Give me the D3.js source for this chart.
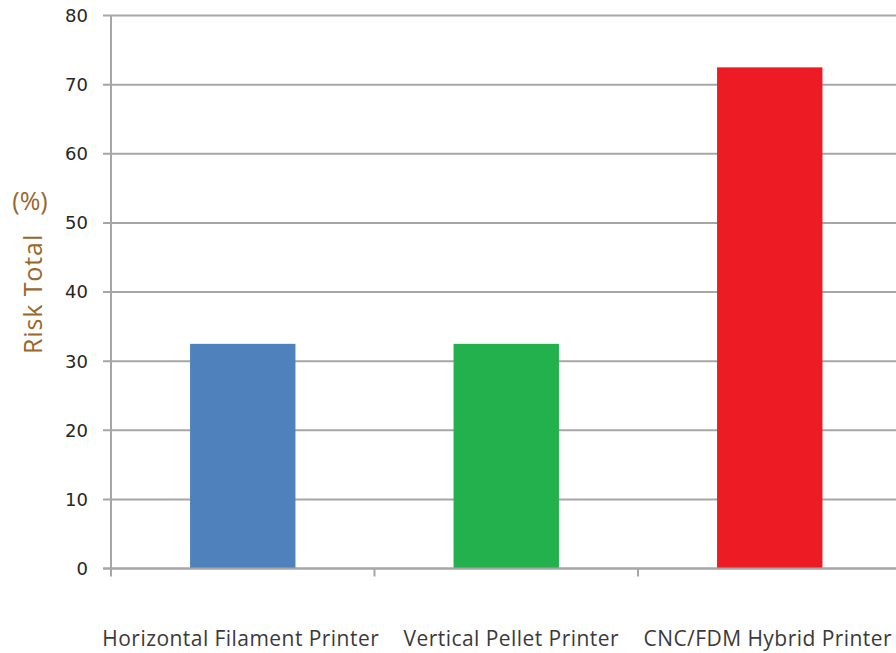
<!DOCTYPE html>
<html>
<head>
<meta charset="utf-8">
<script src="https://cdn.jsdelivr.net/npm/d3@7"></script>
<style>
  html, body { margin: 0; padding: 0; background: #fff; }
  svg { display: block; }
</style>
</head>
<body>
<svg id="chart" width="896" height="653"></svg>
<script>
// Risk totals per printer type
const categories = ["Horizontal Filament Printer", "Vertical Pellet Printer", "CNC/FDM Hybrid Printer"];
const riskValues = [32.5, 32.5, 72.5];
const barColors = ["#4F81BD", "#22B14C", "#ED1C24"];
const yTicks = [0, 10, 20, 30, 40, 50, 60, 70, 80];

const svg = d3.select("#chart");
const plot = { left: 111, right: 901.5, top: 15.5, bottom: 568.5 };

const x = d3.scaleBand()
  .domain(categories)
  .range([plot.left, plot.right])
  .paddingInner(0.6)
  .paddingOuter(0.3);

const y = d3.scaleLinear()
  .domain([0, 80])
  .range([plot.bottom, plot.top]);

const gridColor = "#a6a6a6";

// horizontal gridlines with left tick marks
const grid = svg.append("g");
grid.selectAll("line.grid")
  .data(yTicks)
  .join("line")
  .attr("class", "grid")
  .attr("x1", plot.left - 8)
  .attr("x2", 896)
  .attr("y1", d => y(d))
  .attr("y2", d => y(d))
  .attr("stroke", gridColor)
  .attr("stroke-width", 2);

// y tick labels
svg.append("g").selectAll("text")
  .data(yTicks)
  .join("text")
  .attr("x", 88)
  .attr("y", d => y(d))
  .attr("dy", "0.36em")
  .attr("text-anchor", "end")
  .attr("font-family", "DejaVu Sans, Verdana, sans-serif")
  .attr("font-size", 18)
  .attr("fill", "#262626")
  .text(d => d);

// bars
svg.append("g").selectAll("rect")
  .data(categories)
  .join("rect")
  .attr("x", d => x(d))
  .attr("width", x.bandwidth())
  .attr("y", (d, i) => y(riskValues[i]))
  .attr("height", (d, i) => y(0) - y(riskValues[i]))
  .attr("fill", (d, i) => barColors[i]);

// y axis line
svg.append("line")
  .attr("x1", plot.left).attr("x2", plot.left)
  .attr("y1", plot.top).attr("y2", plot.bottom)
  .attr("stroke", gridColor)
  .attr("stroke-width", 2);

// baseline redrawn over bars, plus category boundary ticks
svg.append("line")
  .attr("x1", plot.left - 8).attr("x2", 896)
  .attr("y1", y(0)).attr("y2", y(0))
  .attr("stroke", gridColor)
  .attr("stroke-width", 2);

const step = x.step();
const boundaries = d3.range(categories.length + 1).map(i => plot.left + i * step);
svg.append("g").selectAll("line")
  .data(boundaries)
  .join("line")
  .attr("x1", d => d).attr("x2", d => d)
  .attr("y1", y(0)).attr("y2", y(0) + 8)
  .attr("stroke", gridColor)
  .attr("stroke-width", 2);

// category labels
const labelShift = [-2, 5, -2];
svg.append("g").selectAll("text")
  .data(categories)
  .join("text")
  .attr("x", (d, i) => x(d) + x.bandwidth() / 2 + labelShift[i])
  .attr("y", 646)
  .attr("text-anchor", "middle")
  .attr("font-family", "'Open Sans', sans-serif")
  .attr("font-size", 21)
  .attr("letter-spacing", 0.45)
  .attr("fill", "#3a3a3a")
  .text(d => d);

// y axis title
const titleColor = "#98672F";
svg.append("text")
  .attr("x", 30)
  .attr("y", 210)
  .attr("text-anchor", "middle")
  .attr("font-family", "'Open Sans', 'Noto Sans', sans-serif")
  .attr("font-size", 25)
  .attr("fill", titleColor)
  .text("(%)");

svg.append("text")
  .attr("transform", "translate(42,294) rotate(-90)")
  .attr("text-anchor", "middle")
  .attr("font-family", "'Open Sans', 'Noto Sans', sans-serif")
  .attr("font-size", 25)
  .attr("letter-spacing", 0.9)
  .attr("fill", titleColor)
  .text("Risk Total");
</script>
</body>
</html>
